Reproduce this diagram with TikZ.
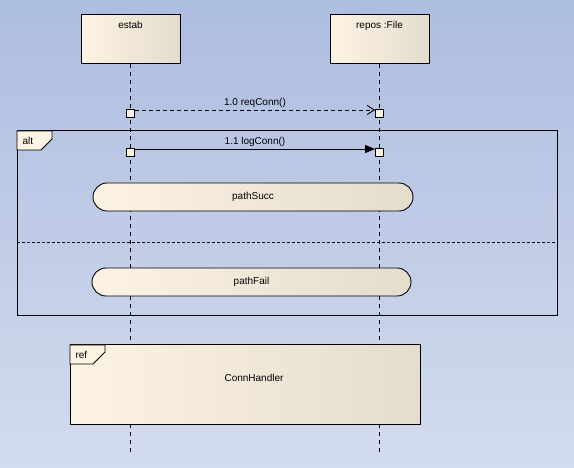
\documentclass[tikz,border=0pt]{standalone}
\usepackage{fontspec}
\setmainfont{Liberation Sans}
\usetikzlibrary{arrows.meta}
\usetikzlibrary{positioning}
\definecolor{bgtop}{RGB}{173,189,224}
\definecolor{bgbot}{RGB}{211,219,238}
\definecolor{boxl}{RGB}{253,243,227}
\definecolor{boxr}{RGB}{228,220,205}
\tikzset{lifebox/.style = {draw, line width=1pt, minimum width=99pt, minimum height=49pt,
                           left color=boxl, middle color=boxl, right color=boxr},
         lifeline/.style = {line width=0.9pt, dash pattern=on 4pt off 4pt},
         actbox/.style = {draw, line width=0.9pt, fill=boxl, minimum size=8pt, inner sep=0pt},
         statebar/.style = {draw, line width=0.9pt, rounded corners=14pt, minimum height=28pt,
                            left color=boxl, middle color=boxl, right color=boxr},
         framebox/.style = {draw, line width=1pt},
         tabbox/.style = {draw, line width=0.9pt, fill=boxl}}
\begin{document}
\begin{tikzpicture}[x=1pt,y=-1pt,font=\fontsize{10}{12}\selectfont]
            \useasboundingbox (0,0) rectangle (574,468);
            \fill[top color=bgtop, bottom color=bgbot] (0,0) rectangle (574,468);
            % lifelines
            \node[lifebox, label={[anchor=north,yshift=-3pt]north:estab}] (estab) at (130.5,39.5) {};
            \node[lifebox, label={[anchor=north,yshift=-3pt]north:repos :File}] (repos) at (379.5,39.5) {};
            \coordinate (estabEnd) at (130.5,455);
            \coordinate (reposEnd) at (379.5,455);
            \draw[lifeline] (estab.south) -- (estabEnd);
            \draw[lifeline] (repos.south) -- (reposEnd);
            % messages
            \node[actbox] (e1) at (130.5,113) {};
            \node[actbox] (r1) at (379.5,113) {};
            \draw[line width=0.9pt, dash pattern=on 4pt off 3pt, -{Straight Barb[length=7pt,width=9pt]}]
                ([yshift=3pt]e1.east) -- node[above=-1pt] {1.0 reqConn()} ([yshift=3pt]r1.west);
            % alt fragment
            \draw[framebox] (17,131) rectangle (557,316);
            \draw[tabbox] (17,131) -- (52,131) -- (52,139) -- (41,150) -- (17,150) -- cycle;
            \node[anchor=west] (altlab) at (19,140.5) {alt};
            \node[actbox] (e2) at (130.5,152) {};
            \node[actbox] (r2) at (379.5,152) {};
            \draw[line width=0.9pt, -{Triangle[length=10pt,width=8pt]}]
                ([yshift=3pt]e2.east) -- node[above=-1pt] {1.1 logConn()} ([yshift=3pt]r2.west);
            \node[statebar, minimum width=320pt] (succ) at (253,197) {pathSucc};
            \draw[line width=0.9pt, dash pattern=on 3pt off 2pt] (17,242) -- (557,242);
            \node[statebar, minimum width=319pt] (fail) at (251.5,282) {pathFail};
            % ref fragment
            \draw[framebox, left color=boxl, middle color=boxl, right color=boxr] (70,345) rectangle (420,424);
            \draw[tabbox] (70,345) -- (105,345) -- (105,352) -- (93,364) -- (70,364) -- cycle;
            \node[anchor=west] (reflab) at (72,354.5) {ref};
            \node (handler) at (254,378) {ConnHandler};
        \end{tikzpicture}
\end{document}
